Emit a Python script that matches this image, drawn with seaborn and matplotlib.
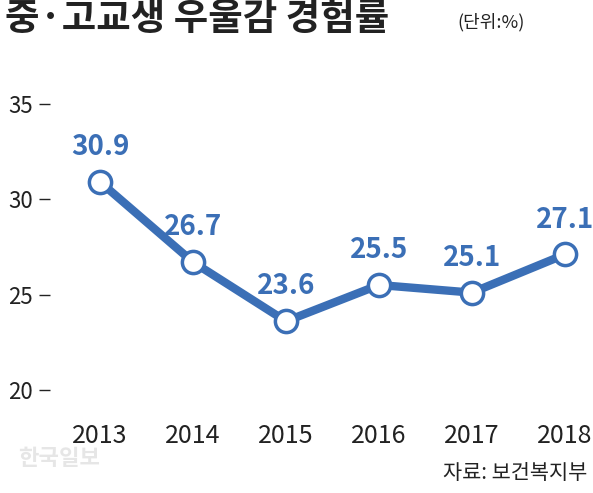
import matplotlib
matplotlib.use("Agg")
import matplotlib.pyplot as plt
import seaborn as sns
import pandas as pd

years = [2013, 2014, 2015, 2016, 2017, 2018]
values = [30.9, 26.7, 23.6, 25.5, 25.1, 27.1]
yticks = [20, 25, 30, 35]

sns.set_style("white")
plt.rcParams['font.family'] = ['Noto Sans CJK KR', 'DejaVu Sans']

df = pd.DataFrame({"year": years, "value": values})
fig = plt.figure(figsize=(5.93, 4.93), dpi=100)
ax = fig.add_axes([0.084, 0.209, 0.911, 0.609])
blue = "#3b6fb6"
sns.lineplot(data=df, x="year", y="value", ax=ax, color=blue, linewidth=6,
             marker="o", markersize=16, markerfacecolor="white",
             markeredgecolor=blue, markeredgewidth=2.5)
for x, v in zip(years, values):
    ax.annotate(f"{v}", (x, v), xytext=(0, 15), textcoords="offset points",
                ha="center", va="bottom", fontsize=20, fontweight="bold", color=blue)
ax.set_xlim(2012.46, 2018.27)
ax.set_ylim(20, 35.73)
ax.set_yticks(yticks)
ax.set_xticks(years)
ax.set_xlabel("")
ax.set_ylabel("")
for s in ax.spines.values():
    s.set_visible(False)
ax.tick_params(axis="y", left=True, length=8, width=1, color="#222222",
               labelsize=16, pad=4, labelcolor="#222222")
ax.tick_params(axis="x", bottom=False, labelsize=18, pad=20, labelcolor="#222222")

fig.text(0.008, 0.962, "중·고교생 우울감 경험률", fontsize=27, fontweight="bold",
         color="#222222", va="center", ha="left")
fig.text(0.772, 0.955, "(단위:%)", fontsize=13, color="#222222", va="center", ha="left")
fig.text(0.99, 0.04, "자료: 보건복지부", fontsize=15, color="#222222", ha="right", va="center")
fig.text(0.03, 0.07, "한국일보", fontsize=16, fontweight="bold", color="#e6e6e6",
         ha="left", va="center")
fig.savefig("out.png", dpi=100)
